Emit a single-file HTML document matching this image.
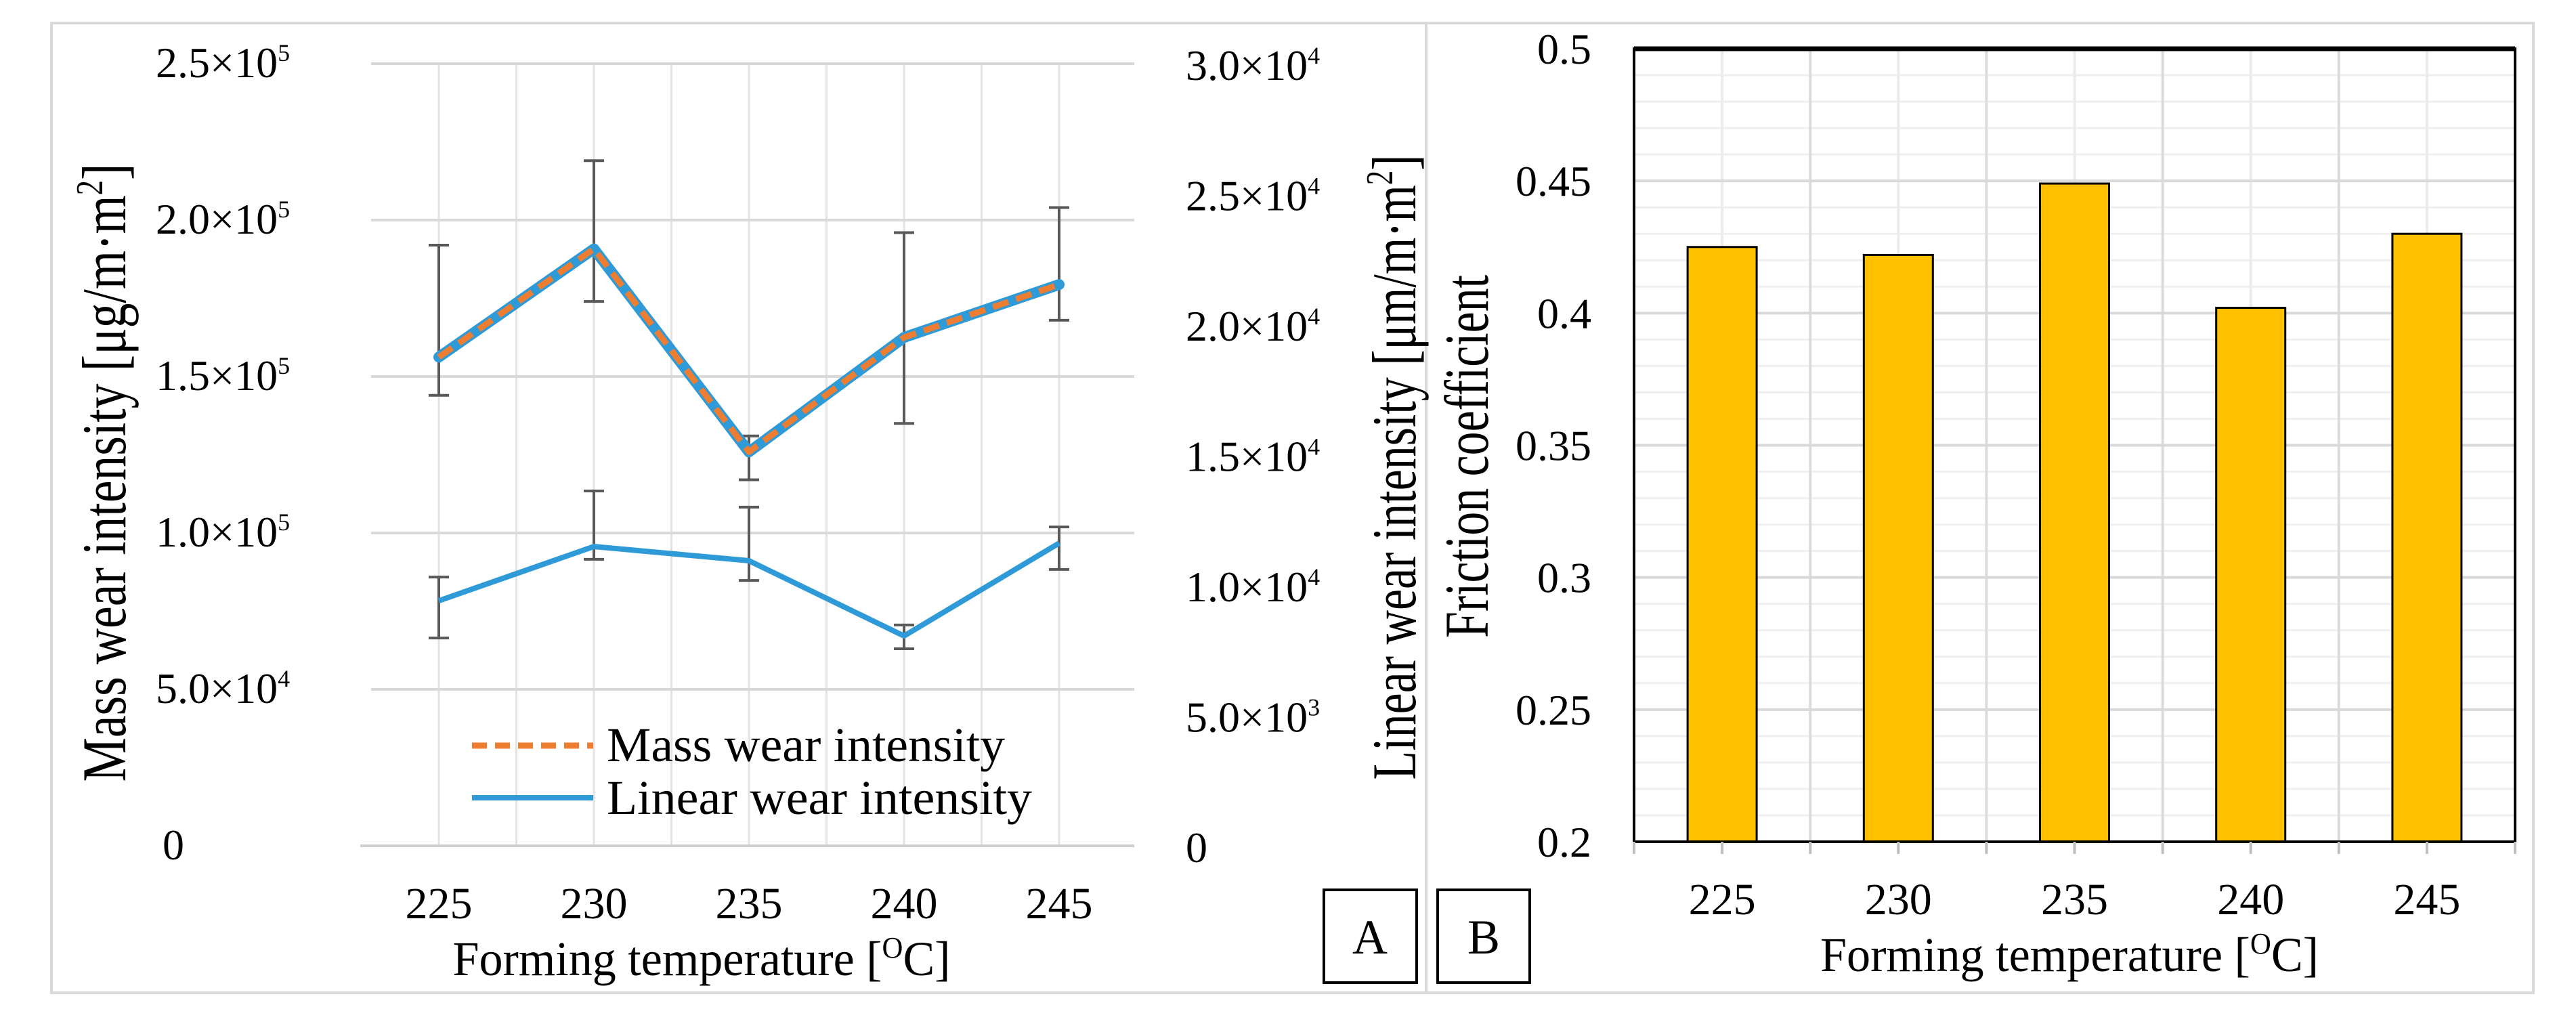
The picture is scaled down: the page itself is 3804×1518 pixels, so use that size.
<!DOCTYPE html>
<html><head><meta charset="utf-8"><style>
html,body{margin:0;padding:0;background:#fff;}
svg{display:block;font-family:"Liberation Serif","DejaVu Serif",serif;}
</style></head><body>
<svg id="c" width="3804" height="1518" viewBox="0 0 3804 1518" xmlns="http://www.w3.org/2000/svg" font-family="'Liberation Serif','DejaVu Serif',serif">
<rect x="0" y="0" width="3804" height="1518" fill="#fff"/>
<rect x="76" y="34" width="3665" height="1432" fill="none" stroke="#d9d9d9" stroke-width="4"/>
<line x1="2106" y1="34" x2="2106" y2="1466" stroke="#d9d9d9" stroke-width="4"/>
<g id="gA"></g>
<g id="gB"></g>
<rect x="1955" y="1314" width="137" height="137" fill="none" stroke="#000" stroke-width="4"/>
<text x="2023" y="1408" font-size="72" text-anchor="middle">A</text>
<rect x="2123" y="1314" width="136" height="137" fill="none" stroke="#000" stroke-width="4"/>
<text x="2191" y="1408" font-size="72" text-anchor="middle">B</text>
</svg>
<script>
// ---- Chart A data ----
const tempsA = [225, 230, 235, 240, 245];
const massVals = [156200, 190800, 125900, 162500, 179400];
const massHi = [192000, 219000, 131000, 196000, 204000];
const massLo = [144000, 174000, 117000, 135000, 168000];
const linVals = [9400, 11480, 10935, 8050, 11610];
const linHi = [10310, 13610, 12990, 8470, 12230];
const linLo = [7970, 10990, 10180, 7560, 10600];
const leftTicks = [0, 50000, 100000, 150000, 200000, 250000];
const leftTickMant = ["0", "5.0", "1.0", "1.5", "2.0", "2.5"];
const leftTickExp = ["", "4", "5", "5", "5", "5"];
const rightTicks = [0, 5000, 10000, 15000, 20000, 25000, 30000];
const rightTickMant = ["0", "5.0", "1.0", "1.5", "2.0", "2.5", "3.0"];
const rightTickExp = ["", "3", "4", "4", "4", "4", "4"];
// ---- Chart B data ----
const tempsB = [225, 230, 235, 240, 245];
const friction = [0.425, 0.422, 0.449, 0.402, 0.430];
const fricTicks = [0.2, 0.25, 0.3, 0.35, 0.4, 0.45, 0.5];
const fricTickLabels = ["0.2", "0.25", "0.3", "0.35", "0.4", "0.45", "0.5"];

const NS = "http://www.w3.org/2000/svg";
function mk(parent, tag, attrs, txt) {
  const e = document.createElementNS(NS, tag);
  for (const k in attrs) e.setAttribute(k, attrs[k]);
  if (txt !== undefined) e.textContent = txt;
  parent.appendChild(e);
  return e;
}
const gA = document.getElementById('gA');
const gB = document.getElementById('gB');

// ---- Chart A scales ----
const A = {x0: 548, x1: 1675, yTop: 94, yBot: 1249, cx0: 648, step: 229};
const xA = i => A.cx0 + i * A.step;
const yL = v => A.yBot - (v / 250000) * (A.yBot - A.yTop);
const yR = v => A.yBot - (v / 30000) * (A.yBot - A.yTop);

for (let k = 0; k <= (tempsA.length - 1) * 2; k++) {
  const x = A.cx0 + k * A.step / 2;
  const l = mk(gA, 'line', {x1: x, y1: A.yTop, x2: x, y2: A.yBot, stroke: '#e3e3e3', 'stroke-width': 3});
  
  
}
leftTicks.forEach((t, i) => {
  const y = yL(t);
  const l = mk(gA, 'line', {x1: i === 0 ? 532 : A.x0, y1: y, x2: A.x1, y2: y, stroke: i === 0 ? '#cfcfcf' : '#d9d9d9', 'stroke-width': 4});
  
  
  const tx = mk(gA, 'text', {x: i === 0 ? 240 : 230, y: y + 20, 'font-size': 64});
  
  
  if (leftTickExp[i]) {
    tx.textContent = leftTickMant[i] + '×10';
    mk(tx, 'tspan', {dy: -24, 'font-size': 36}, leftTickExp[i]);
  } else tx.textContent = leftTickMant[i];
});
rightTicks.forEach((t, i) => {
  const y = yR(t);
  const tx = mk(gA, 'text', {x: 1751, y: y + 24, 'font-size': 64});
  
  
  if (rightTickExp[i]) {
    tx.textContent = rightTickMant[i] + '×10';
    mk(tx, 'tspan', {dy: -24, 'font-size': 36}, rightTickExp[i]);
  } else tx.textContent = rightTickMant[i];
});
tempsA.forEach((t, i) => {
  const tx = mk(gA, 'text', {x: xA(i), y: 1356, 'font-size': 66, 'text-anchor': 'middle'}, String(t));
  
  
});

function errBar(i, lo, hi, yf, name) {
  const x = xA(i), g = mk(gA, 'g', {stroke: '#595959', 'stroke-width': 4});
  
  
  mk(g, 'line', {x1: x, y1: yf(lo), x2: x, y2: yf(hi)});
  mk(g, 'line', {x1: x - 15, y1: yf(lo), x2: x + 15, y2: yf(lo)});
  mk(g, 'line', {x1: x - 15, y1: yf(hi), x2: x + 15, y2: yf(hi)});
}
tempsA.forEach((t, i) => { errBar(i, massLo[i], massHi[i], yL, 'mass-error-bar'); });
tempsA.forEach((t, i) => { errBar(i, linLo[i], linHi[i], yR, 'linear-error-bar'); });

const massPts = massVals.map((v, i) => xA(i) + ',' + yL(v)).join(' ');
const linPts = linVals.map((v, i) => xA(i) + ',' + yR(v)).join(' ');
const mu = mk(gA, 'polyline', {points: massPts, fill: 'none', stroke: '#2e9bd8', 'stroke-width': 16, 'stroke-linejoin': 'round', 'stroke-linecap': 'round'});


const mo = mk(gA, 'polyline', {points: massPts, fill: 'none', stroke: '#ed7d31', 'stroke-width': 9, 'stroke-dasharray': '24 12', 'stroke-linejoin': 'round'});


const ll = mk(gA, 'polyline', {points: linPts, fill: 'none', stroke: '#2e9bd8', 'stroke-width': 8, 'stroke-linejoin': 'round'});



const lg = mk(gA, 'g', {});


const le1 = mk(lg, 'line', {x1: 697, y1: 1101, x2: 876, y2: 1101, stroke: '#ed7d31', 'stroke-width': 9, 'stroke-dasharray': '22 12'});


const lt1 = mk(lg, 'text', {x: 896, y: 1124, 'font-size': 72, textLength: 588, lengthAdjust: 'spacingAndGlyphs'}, 'Mass wear intensity');


const le2 = mk(lg, 'line', {x1: 697, y1: 1178, x2: 876, y2: 1178, stroke: '#2e9bd8', 'stroke-width': 8});


const lt2 = mk(lg, 'text', {x: 896, y: 1202, 'font-size': 72, textLength: 628, lengthAdjust: 'spacingAndGlyphs'}, 'Linear wear intensity');



const ta = mk(gA, 'text', {x: 0, y: 0, 'font-size': 92, 'text-anchor': 'middle', transform: 'translate(185,698) rotate(-90)', textLength: 913, lengthAdjust: 'spacingAndGlyphs'}, 'Mass wear intensity [μg/m·m');
mk(ta, 'tspan', {dy: -34, 'font-size': 56}, '2');
mk(ta, 'tspan', {dy: 34}, ']');


const tr = mk(gA, 'text', {x: 0, y: 0, 'font-size': 92, 'text-anchor': 'middle', transform: 'translate(2090,690) rotate(-90)', textLength: 923, lengthAdjust: 'spacingAndGlyphs'}, 'Linear wear intensity [μm/m·m');
mk(tr, 'tspan', {dy: -34, 'font-size': 56}, '2');
mk(tr, 'tspan', {dy: 34}, ']');


const txA = mk(gA, 'text', {x: 1036, y: 1440, 'font-size': 72, 'text-anchor': 'middle', textLength: 735, lengthAdjust: 'spacingAndGlyphs'}, 'Forming temperature [');
mk(txA, 'tspan', {dy: -26, 'font-size': 44}, 'O');
mk(txA, 'tspan', {dy: 26}, 'C]');



// ---- Chart B ----
const B = {x0: 2413, x1: 3714, yTop: 72, yBot: 1243};
const bStep = (B.x1 - B.x0) / tempsB.length;
const xB = i => B.x0 + bStep * (i + 0.5);
const yB = v => B.yBot - (v - 0.2) / 0.3 * (B.yBot - B.yTop);
for (let v = 0.21; v < 0.5; v += 0.01) {
  const l = mk(gB, 'line', {x1: B.x0, y1: yB(v), x2: B.x1, y2: yB(v), stroke: '#efefef', 'stroke-width': 3});
  
  
}
for (let k = 1; k < tempsB.length * 2; k++) {
  const x = B.x0 + k * bStep / 2;
  const l = mk(gB, 'line', {x1: x, y1: B.yTop, x2: x, y2: B.yBot, stroke: k % 2 ? '#ececec' : '#dcdcdc', 'stroke-width': 4});
  
  
}
fricTicks.forEach((t, i) => {
  const y = yB(t);
  const l = mk(gB, 'line', {x1: B.x0, y1: y, x2: B.x1, y2: y, stroke: '#d9d9d9', 'stroke-width': 4});
  
  
  const tx = mk(gB, 'text', {x: 2350, y: y + 22, 'font-size': 64, 'text-anchor': 'end'}, fricTickLabels[i]);
  
  
});
friction.forEach((v, i) => {
  const r = mk(gB, 'rect', {x: xB(i) - 51, y: yB(v), width: 102, height: B.yBot - yB(v), fill: '#ffc000', stroke: '#000', 'stroke-width': 3});
  
  
});
const plotFrame = mk(gB, 'path', {d: `M${B.x0} ${B.yBot} V${B.yTop} H${B.x1} V${B.yBot}`, fill: 'none', stroke: '#000', 'stroke-width': 4});


const topBorder = mk(gB, 'line', {x1: B.x0, y1: B.yTop, x2: B.x1, y2: B.yTop, stroke: '#000', 'stroke-width': 7});


const bAxis = mk(gB, 'line', {x1: B.x0, y1: B.yBot, x2: B.x1, y2: B.yBot, stroke: '#000', 'stroke-width': 4});


for (let k = 0; k <= tempsB.length * 2; k++) {
  const x = B.x0 + k * bStep / 2;
  const l = mk(gB, 'line', {x1: x, y1: B.yBot, x2: x, y2: B.yBot + 18, stroke: '#bfbfbf', 'stroke-width': 4});
  
  
}
tempsB.forEach((t, i) => {
  const tx = mk(gB, 'text', {x: xB(i), y: 1350, 'font-size': 66, 'text-anchor': 'middle'}, String(t));
  
  
});
const tbY = mk(gB, 'text', {x: 0, y: 0, 'font-size': 92, 'text-anchor': 'middle', transform: 'translate(2197,674) rotate(-90)', textLength: 536, lengthAdjust: 'spacingAndGlyphs'}, 'Friction coefficient');


const tbX = mk(gB, 'text', {x: 3056, y: 1434, 'font-size': 72, 'text-anchor': 'middle', textLength: 736, lengthAdjust: 'spacingAndGlyphs'}, 'Forming temperature [');
mk(tbX, 'tspan', {dy: -26, 'font-size': 44}, 'O');
mk(tbX, 'tspan', {dy: 26}, 'C]');


</script>
</body></html>
